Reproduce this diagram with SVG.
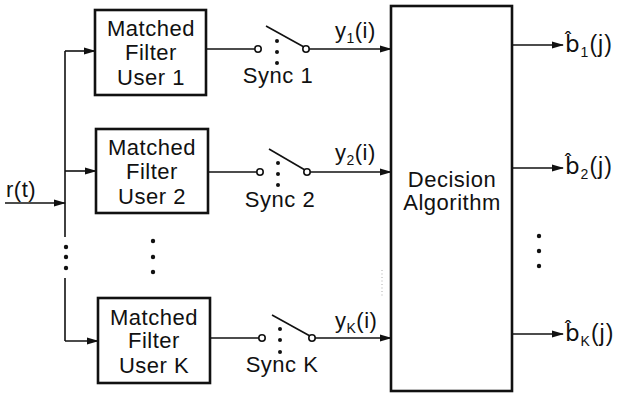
<svg xmlns="http://www.w3.org/2000/svg" width="618" height="395" viewBox="0 0 618 395">
<defs>
<marker id="ah" markerWidth="12" markerHeight="8" refX="11" refY="4" orient="auto" markerUnits="userSpaceOnUse">
<path d="M0,0.5 L12,4 L0,7.5 Z" fill="#111"/>
</marker>
<style>
.box{fill:#fff;stroke:#111;stroke-width:2.6}
.ln{fill:none;stroke:#111;stroke-width:1.6}
.arr{fill:none;stroke:#111;stroke-width:1.6;marker-end:url(#ah)}
.sw{fill:#fff;stroke:#111;stroke-width:1.6}
.dot{fill:#111}
.t{font-family:"Liberation Sans",Arial,sans-serif;font-size:22px;letter-spacing:0.5px;fill:#111}
.c{text-anchor:middle}
.s{font-size:14px}
.o{font-size:23px;letter-spacing:1px}
.h{font-family:"DejaVu Sans",sans-serif}
</style>
</defs>
<rect width="618" height="395" fill="#fff"/>
<g id="connectors">
<line class="arr" x1="5" y1="203" x2="65" y2="203"/>
<polyline class="ln" points="65,51 65,237"/>
<polyline class="ln" points="65,278 65,341"/>
<line class="arr" x1="65" y1="51" x2="95" y2="51"/>
<line class="arr" x1="65" y1="171" x2="96" y2="171"/>
<line class="arr" x1="65" y1="341" x2="98" y2="341"/>
<line class="ln" x1="206" y1="49" x2="255" y2="49"/>
<line class="ln" x1="208" y1="172" x2="257" y2="172"/>
<line class="ln" x1="210" y1="338" x2="259" y2="338"/>
<line class="arr" x1="309" y1="49" x2="391" y2="49"/>
<line class="arr" x1="310" y1="172" x2="391" y2="172"/>
<line class="arr" x1="315" y1="338" x2="391" y2="338"/>
<line class="arr" x1="512" y1="45" x2="563" y2="45"/>
<line class="arr" x1="512" y1="168" x2="563" y2="168"/>
<line class="arr" x1="512" y1="334" x2="563" y2="334"/>
<line x1="382" y1="270" x2="382" y2="297" stroke="#aaa" stroke-width="1" stroke-dasharray="1 2.5"/>
</g>
<g id="bus-dots">
<circle class="dot" cx="66" cy="247" r="2.2"/><circle class="dot" cx="66" cy="257" r="2.2"/><circle class="dot" cx="66" cy="268" r="2.2"/>
<circle class="dot" cx="153" cy="241" r="2.2"/><circle class="dot" cx="153" cy="257" r="2.2"/><circle class="dot" cx="153" cy="272" r="2.2"/>
<circle class="dot" cx="539" cy="236" r="2.2"/><circle class="dot" cx="539" cy="251" r="2.2"/><circle class="dot" cx="539" cy="266" r="2.2"/>
</g>
<g id="input-label"><text class="t" x="6" y="197">r(t)</text></g>
<g id="mf1">
<rect class="box" x="95" y="10" width="111" height="85"/>
<text class="t c" x="151" y="36">Matched</text>
<text class="t c" x="151" y="60">Filter</text>
<text class="t c" x="151" y="85">User 1</text>
</g>
<g id="mf2">
<rect class="box" x="96" y="129" width="112" height="84"/>
<text class="t c" x="152" y="155">Matched</text>
<text class="t c" x="152" y="179">Filter</text>
<text class="t c" x="152" y="204">User 2</text>
</g>
<g id="mfK">
<rect class="box" x="98" y="298" width="112" height="85"/>
<text class="t c" x="154" y="325">Matched</text>
<text class="t c" x="154" y="348">Filter</text>
<text class="t c" x="154" y="373">User K</text>
</g>
<g id="sync1">
<line class="ln" x1="266" y1="26" x2="304" y2="47"/>
<circle class="sw" cx="258" cy="49" r="3.2"/><circle class="sw" cx="306" cy="49" r="3.2"/>
<circle class="dot" cx="277" cy="41" r="2"/><circle class="dot" cx="277" cy="52" r="2"/><circle class="dot" cx="277" cy="63" r="2"/>
<text class="t c" x="278" y="83">Sync 1</text>
</g>
<g id="sync2">
<line class="ln" x1="269" y1="149" x2="305" y2="170"/>
<circle class="sw" cx="260" cy="172" r="3.2"/><circle class="sw" cx="307" cy="172" r="3.2"/>
<circle class="dot" cx="278" cy="163" r="2"/><circle class="dot" cx="278" cy="174" r="2"/><circle class="dot" cx="278" cy="185" r="2"/>
<text class="t c" x="280" y="207">Sync 2</text>
</g>
<g id="syncK">
<line class="ln" x1="272" y1="315" x2="310" y2="336"/>
<circle class="sw" cx="262" cy="338" r="3.2"/><circle class="sw" cx="312" cy="338" r="3.2"/>
<circle class="dot" cx="280" cy="329" r="2"/><circle class="dot" cx="280" cy="340" r="2"/><circle class="dot" cx="280" cy="352" r="2"/>
<text class="t c" x="282" y="372">Sync K</text>
</g>
<g id="y-labels">
<text class="t" x="335" y="38">y<tspan class="s" dy="5">1</tspan><tspan dy="-5">(i)</tspan></text>
<text class="t" x="335" y="160">y<tspan class="s" dy="5">2</tspan><tspan dy="-5">(i)</tspan></text>
<text class="t" x="335" y="328">y<tspan class="s" dy="5">K</tspan><tspan dy="-5">(i)</tspan></text>
</g>
<g id="decision">
<rect class="box" x="391" y="6" width="121" height="385"/>
<text class="t c" x="452" y="187">Decision</text>
<text class="t c" x="452" y="210">Algorithm</text>
</g>
<g id="outputs">
<text class="t o" x="565" y="52"><tspan class="h">b̂</tspan><tspan class="s" dy="5">1</tspan><tspan dy="-5">(j)</tspan></text>
<text class="t o" x="565" y="174"><tspan class="h">b̂</tspan><tspan class="s" dy="5">2</tspan><tspan dy="-5">(j)</tspan></text>
<text class="t o" x="565" y="341"><tspan class="h">b̂</tspan><tspan class="s" dy="5">K</tspan><tspan dy="-5">(j)</tspan></text>
</g>
</svg>
